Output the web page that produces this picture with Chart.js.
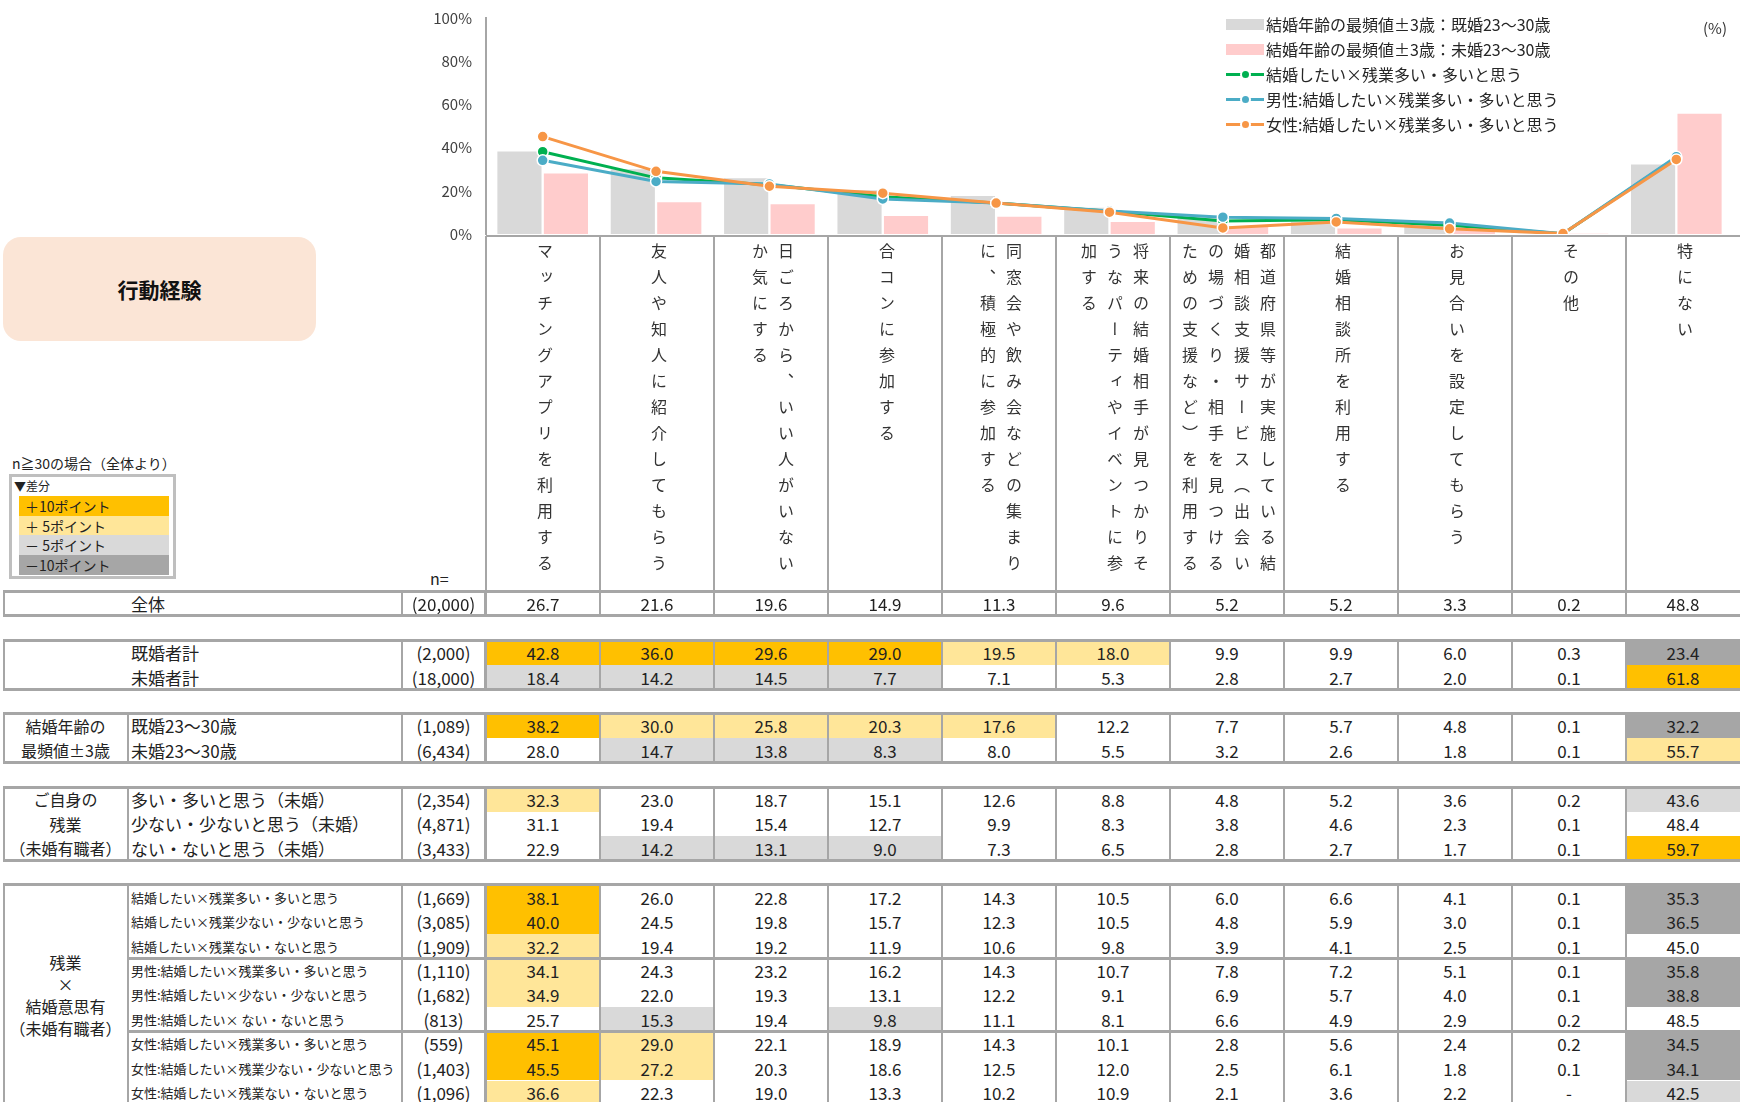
<!DOCTYPE html>
<html><head><meta charset="utf-8">
<script src="https://cdn.jsdelivr.net/npm/chart.js@4.4.1/dist/chart.umd.min.js"></script>
<style>
html,body{margin:0;padding:0;background:#fff;}
body{width:1740px;height:1102px;position:relative;overflow:hidden;font-family:"Noto Sans CJK JP","Noto Sans",sans-serif;color:#222;}
#chart{position:absolute;left:0;top:-5px;}
.a{position:absolute;}
.vt{position:absolute;top:243px;height:345px;writing-mode:vertical-rl;font-size:16px;letter-spacing:10px;line-height:26px;transform:translateX(-50%);color:#333;}
.cell{position:absolute;display:flex;align-items:center;justify-content:center;white-space:nowrap;}
.hl{position:absolute;background:#a6a6a6;}
.leg{position:absolute;left:1226px;font-size:16px;color:#262626;white-space:nowrap;display:flex;align-items:center;height:22px;}
.sw{width:38px;height:11px;margin-right:2px;position:relative;}
.ln{width:38px;height:3px;margin-right:2px;position:relative;}
.ln i{position:absolute;left:14px;top:-4px;width:7px;height:7px;border-radius:50%;border:2px solid #fff;}
</style>
</head><body>
<canvas id="chart" width="1740" height="262"></canvas>
<div id="root"></div>
<script>
const categories = ['マッチングアプリを利用する','友人や知人に紹介してもらう','日ごろから、いい人がいないか気にする','合コンに参加する','同窓会や飲み会などの集まりに、積極的に参加する','将来の結婚相手が見つかりそうなパーティやイベントに参加する','都道府県等が実施している結婚相談支援サービス（出会いの場づくり・相手を見つけるための支援など）を利用する','結婚相談所を利用する','お見合いを設定してもらう','その他','特にない'];
const yTicks = ['0%','20%','40%','60%','80%','100%'];
const seriesNames = ['結婚年齢の最頻値±3歳：既婚23〜30歳','結婚年齢の最頻値±3歳：未婚23〜30歳','結婚したい×残業多い・多いと思う','男性:結婚したい×残業多い・多いと思う','女性:結婚したい×残業多い・多いと思う'];
const seriesColors = ['#d9d9d9','#ffcccc','#00b050','#4bacc6','#f79646'];

const total         = [26.7,21.6,19.6,14.9,11.3,9.6,5.2,5.2,3.3,0.2,48.8];
const married       = [42.8,36.0,29.6,29.0,19.5,18.0,9.9,9.9,6.0,0.3,23.4];
const unmarried     = [18.4,14.2,14.5,7.7,7.1,5.3,2.8,2.7,2.0,0.1,61.8];
const married2330   = [38.2,30.0,25.8,20.3,17.6,12.2,7.7,5.7,4.8,0.1,32.2];
const unmarried2330 = [28.0,14.7,13.8,8.3,8.0,5.5,3.2,2.6,1.8,0.1,55.7];
const otMany        = [32.3,23.0,18.7,15.1,12.6,8.8,4.8,5.2,3.6,0.2,43.6];
const otFew         = [31.1,19.4,15.4,12.7,9.9,8.3,3.8,4.6,2.3,0.1,48.4];
const otNone        = [22.9,14.2,13.1,9.0,7.3,6.5,2.8,2.7,1.7,0.1,59.7];
const wantMany      = [38.1,26.0,22.8,17.2,14.3,10.5,6.0,6.6,4.1,0.1,35.3];
const wantFew       = [40.0,24.5,19.8,15.7,12.3,10.5,4.8,5.9,3.0,0.1,36.5];
const wantNone      = [32.2,19.4,19.2,11.9,10.6,9.8,3.9,4.1,2.5,0.1,45.0];
const maleMany      = [34.1,24.3,23.2,16.2,14.3,10.7,7.8,7.2,5.1,0.1,35.8];
const maleFew       = [34.9,22.0,19.3,13.1,12.2,9.1,6.9,5.7,4.0,0.1,38.8];
const maleNone      = [25.7,15.3,19.4,9.8,11.1,8.1,6.6,4.9,2.9,0.2,48.5];
const femaleMany    = [45.1,29.0,22.1,18.9,14.3,10.1,2.8,5.6,2.4,0.2,34.5];
const femaleFew     = [45.5,27.2,20.3,18.6,12.5,12.0,2.5,6.1,1.8,0.1,34.1];
const femaleNone    = [36.6,22.3,19.0,13.3,10.2,10.9,2.1,3.6,2.2,null,42.5];

const rowLabels = ['全体','既婚者計','未婚者計','既婚23〜30歳','未婚23〜30歳','多い・多いと思う（未婚）','少ない・少ないと思う（未婚）','ない・ないと思う（未婚）','結婚したい×残業多い・多いと思う','結婚したい×残業少ない・少ないと思う','結婚したい×残業ない・ないと思う','男性:結婚したい×残業多い・多いと思う','男性:結婚したい×少ない・少ないと思う','男性:結婚したい× ない・ないと思う','女性:結婚したい×残業多い・多いと思う','女性:結婚したい×残業少ない・少ないと思う','女性:結婚したい×残業ない・ないと思う'];
const nLabels = ['(20,000)','(2,000)','(18,000)','(1,089)','(6,434)','(2,354)','(4,871)','(3,433)','(1,669)','(3,085)','(1,909)','(1,110)','(1,682)','(813)','(559)','(1,403)','(1,096)'];
const rowValues = [total,married,unmarried,married2330,unmarried2330,otMany,otFew,otNone,wantMany,wantFew,wantNone,maleMany,maleFew,maleNone,femaleMany,femaleFew,femaleNone];
const groupLabels = ['','','結婚年齢の\n最頻値±3歳','ご自身の\n残業\n（未婚有職者）','残業\n×\n結婚意思有\n（未婚有職者）'];
const groupSizes = [1,2,2,3,9];
const diffLegend = ['＋10ポイント','＋ 5ポイント','－ 5ポイント','－10ポイント'];
const diffColors = ['#ffc000','#ffe699','#d9d9d9','#a6a6a6'];

// ---------- layout constants ----------
const X0 = 486, CW = 114, ROW0 = 591.5, RH = 24.45;
const root = document.getElementById('root');
function el(cls, style, html){const d=document.createElement('div');d.className=cls;Object.assign(d.style,style);if(html!==undefined)d.innerHTML=html;root.appendChild(d);return d;}
function hline(x1,x2,y,t){el('hl',{left:x1+'px',top:(y-t/2)+'px',width:(x2-x1)+'px',height:t+'px'});}
function vline(x,y1,y2,t){el('hl',{left:(x-t/2)+'px',top:y1+'px',width:t+'px',height:(y2-y1)+'px'});}
const rowY = i => ROW0 + RH*i;

// left title box
el('a',{left:'3px',top:'237px',width:'313px',height:'104px',background:'#fbe5d6',borderRadius:'18px',display:'flex',alignItems:'center',justifyContent:'center',fontSize:'21px',fontWeight:'bold',color:'#111'},'行動経験');

// diff legend
el('a',{left:'12px',top:'453px',fontSize:'14px',color:'#222',whiteSpace:'nowrap'},'n≧30の場合（全体より）');
el('a',{left:'9px',top:'474px',width:'167px',height:'105px',border:'3px solid #bfbfbf',boxSizing:'border-box'});
el('a',{left:'14px',top:'477px',fontSize:'12px',color:'#222'},'▼差分');
diffLegend.forEach((t,i)=>{
  el('a',{left:'19px',top:(496+i*19.7)+'px',width:'150px',height:'19.7px',background:diffColors[i],fontSize:'14px',lineHeight:'20px',paddingLeft:'6px',boxSizing:'border-box',color:'#222',whiteSpace:'pre'},t);
});
el('a',{left:'430px',top:'566px',fontSize:'16px',color:'#222'},'n=');

// chart legend
seriesNames.forEach((s,i)=>{
  const d = el('leg',{top:(13+i*25)+'px'});
  if(i<2){d.innerHTML='<div class="sw" style="background:'+seriesColors[i]+'"></div>'+s;}
  else{d.innerHTML='<div class="ln" style="background:'+seriesColors[i]+'"><i style="background:'+seriesColors[i]+'"></i></div>'+s;}
});
el('a',{left:'1703px',top:'17px',fontSize:'15px',color:'#333'},'(%)');

// vertical category labels
categories.forEach((c,k)=>{
  el('vt',{left:(X0+CW*k+CW/2+2)+'px'},c);
});
// header lines
hline(X0,1740,236,2);
for(let k=0;k<11;k++) vline(X0+CW*k,236,rowY(0),2);

// table
function colorFor(v,t){
  if(v===null) return '';
  const d=Math.round((v-t)*10)/10;
  if(d>=10) return diffColors[0];
  if(d>=5) return diffColors[1];
  if(d<=-10) return diffColors[3];
  if(d<=-5) return diffColors[2];
  return '';
}
const posStarts=[0,2,5,8,12];
let di=0;
groupSizes.forEach((gs,g)=>{
  const s=posStarts[g], e=s+gs;
  for(let p=s;p<e;p++,di++){
    const y=rowY(p);
    const small = di>=8;
    el('cell',{left:'131px',top:y+'px',height:RH+'px',justifyContent:'flex-start',fontSize:(small?'13px':'17px'),color:'#222'},rowLabels[di]);
    el('cell',{left:'402px',top:y+'px',width:'83px',height:RH+'px',fontSize:'17px',color:'#222'},nLabels[di]);
    const vals=rowValues[di], isTotal=(di===0);
    vals.forEach((v,k)=>{
      const bg = isTotal?'':colorFor(v,total[k]);
      el('cell',{left:(X0+CW*k)+'px',top:y+'px',width:CW+'px',height:RH+'px',background:bg||'transparent',fontSize:'17px',color:'#222'},v===null?'-':v.toFixed(1));
    });
  }
  if(groupLabels[g]){
    const lh = g===4?22:RH;
    el('cell',{left:'3px',top:rowY(s)+'px',width:'125px',height:(RH*gs)+'px',fontSize:'16px',lineHeight:lh+'px',textAlign:'center',whiteSpace:'pre',color:'#222'},groupLabels[g]);
    vline(128,rowY(s),rowY(e),2);
  }
  vline(4,rowY(s),rowY(e),2);
  vline(402,rowY(s),rowY(e),2);
  vline(X0-1,rowY(s),rowY(e),3);
  for(let k=1;k<11;k++) vline(X0+CW*k,rowY(s),rowY(e),2);
  hline(3,1740,rowY(s),3);
  hline(3,1740,rowY(e),3);
  if(g===4){hline(128,1740,rowY(s+3),3);hline(128,1740,rowY(s+6),3);}
});

// ---------- chart ----------
const lineStyle = (i,data,order)=>({type:'line',label:seriesNames[i],data:data,borderColor:seriesColors[i],backgroundColor:seriesColors[i],pointBackgroundColor:seriesColors[i],pointBorderColor:'#fff',pointBorderWidth:1.5,pointRadius:5.5,borderWidth:3,tension:0,order:order});
new Chart(document.getElementById('chart').getContext('2d'),{
  data:{
    labels:categories,
    datasets:[
      lineStyle(4,femaleMany,0),
      lineStyle(3,maleMany,1),
      lineStyle(2,wantMany,2),
      {type:'bar',label:seriesNames[0],data:married2330,backgroundColor:seriesColors[0],barPercentage:0.95,categoryPercentage:0.82,order:3},
      {type:'bar',label:seriesNames[1],data:unmarried2330,backgroundColor:seriesColors[1],barPercentage:0.95,categoryPercentage:0.82,order:4}
    ]
  },
  options:{
    responsive:false,animation:false,
    layout:{padding:{top:18,bottom:6,left:0,right:0}},
    plugins:{legend:{display:false},tooltip:{enabled:false}},
    scales:{
      x:{display:false,offset:true},
      y:{min:0,max:100,
         ticks:{stepSize:20,padding:14,color:'#404040',font:{size:15,family:'"Noto Sans CJK JP","Noto Sans",sans-serif'},callback:(v,i)=>yTicks[i]},
         grid:{display:false,drawTicks:false},
         border:{display:true,color:'#a6a6a6',width:2},
         afterFit:(s)=>{s.width=X0;}
      }
    }
  }
});
</script>
</body></html>
